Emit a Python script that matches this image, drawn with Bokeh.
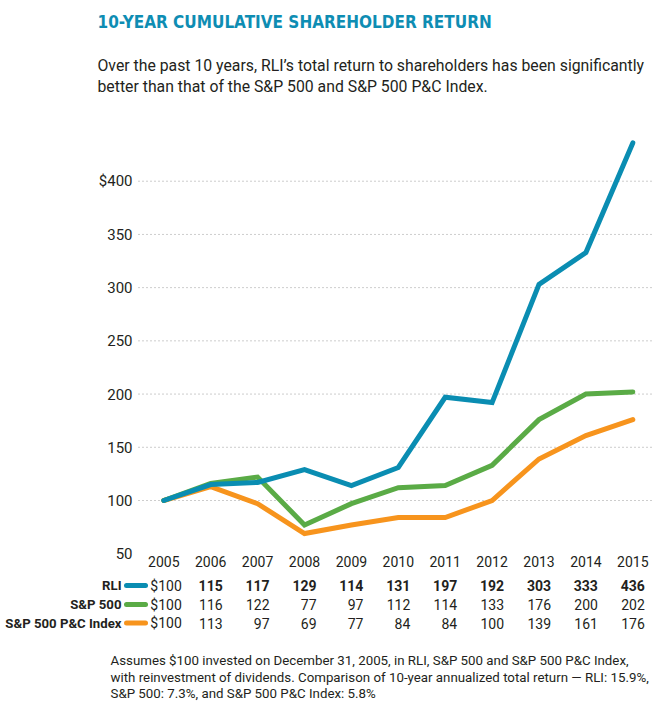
from bokeh.plotting import figure
from bokeh.models import Range1d, ColumnDataSource
from bokeh.core.properties import value
from bokeh.embed import file_html
from bokeh.resources import INLINE

# ---------------- data ----------------
years = [2005, 2006, 2007, 2008, 2009, 2010, 2011, 2012, 2013, 2014, 2015]
rli = [100, 115, 117, 129, 114, 131, 197, 192, 303, 333, 436]
sp500 = [100, 116, 122, 77, 97, 112, 114, 133, 176, 200, 202]
pc_index = [100, 113, 97, 69, 77, 84, 84, 100, 139, 161, 176]
series_names = ["RLI", "S&P 500", "S&P 500 P&C Index"]
y_ticks = [50, 100, 150, 200, 250, 300, 350, 400]
y_tick_labels = ["50", "100", "150", "200", "250", "300", "350", "$400"]
title_text = "10-YEAR CUMULATIVE SHAREHOLDER RETURN"
subtitle_lines = [
    "Over the past 10 years, RLI\u2019s total return to shareholders has been significantly",
    "better than that of the S&P 500 and S&P 500 P&C Index.",
]
footnote_lines = [
    "Assumes $100 invested on December 31, 2005, in RLI, S&P 500 and S&P 500 P&C Index,",
    "with reinvestment of dividends. Comparison of 10-year annualized total return \u2014 RLI: 15.9%,",
    "S&P 500: 7.3%, and S&P 500 P&C Index: 5.8%",
]

# ---------------- styling / layout ----------------
W, H = 665, 712
BLUE, GREEN, ORANGE = "#0a8db2", "#5aab46", "#f7941d"
TITLE_COLOR = "#0e8db3"
TEXT = "#231f20"
FONT = value("Roboto")
NARROW = value("DejaVu Sans Condensed, Roboto")

# pixel anchors of the plotting scale
x0_px, px_per_year = 163.3, 46.9
y100_px, px_per_unit = 500.0, 1.0643

x_start = years[0] - x0_px / px_per_year
x_end = years[0] + (W - x0_px) / px_per_year
y_end = 100 + y100_px / px_per_unit
y_start = 100 - (H - y100_px) / px_per_unit

p = figure(width=W, height=H, x_range=Range1d(x_start, x_end), y_range=Range1d(y_start, y_end),
           output_backend="svg", toolbar_location=None, min_border=0,
           x_axis_type=None, y_axis_type=None, outline_line_color=None,
           background_fill_color="white", border_fill_color="white")
p.extra_x_ranges = {"px": Range1d(0, W)}
p.extra_y_ranges = {"py": Range1d(H, 0)}

# grid lines (dotted)
grid_vals = [t for t in y_ticks if t >= 100]
p.segment(x0=[138] * len(grid_vals), x1=[651] * len(grid_vals), y0=grid_vals, y1=grid_vals,
          x_range_name="px", line_color="#9a9a9a", line_width=1, line_dash="1 3")

# y tick labels
p.text(x=[132] * len(y_ticks), y=y_ticks, text=y_tick_labels, x_range_name="px",
       text_align="right", text_baseline="middle", text_font=FONT,
       text_font_size="15px", text_color=TEXT)

# series lines
colors = [BLUE, GREEN, ORANGE]
series = [rli, sp500, pc_index]
for vals, col in [(pc_index, ORANGE), (sp500, GREEN), (rli, BLUE)]:
    p.line(years, vals, line_color=col, line_width=5, line_cap="round", line_join="miter")

# year labels
p.text(x=years, y=[561] * len(years), text=[str(y) for y in years], y_range_name="py",
       text_align="center", text_baseline="middle", text_font=FONT,
       text_font_size="14px", text_color=TEXT)

# table
row_y = [585, 604, 622.5]
for i, (name, vals, col) in enumerate(zip(series_names, series, colors)):
    ry = row_y[i]
    p.text(x=[121], y=[ry], text=[name], x_range_name="px", y_range_name="py",
           text_align="right", text_baseline="middle", text_font=FONT,
           text_font_style="bold", text_font_size="13.2px", text_color=TEXT)
    p.segment(x0=[126], x1=[145], y0=[ry], y1=[ry], x_range_name="px", y_range_name="py",
              line_color=col, line_width=5, line_cap="round")
    labels = ["$" + str(vals[0])] + [str(v) for v in vals[1:]]
    offs = [18] + [12] * (len(vals) - 1)
    styles = ["normal"] + (["bold"] * (len(vals) - 1) if i == 0 else ["normal"] * (len(vals) - 1))
    src = ColumnDataSource(dict(x=years, y=[ry] * len(years), t=labels, o=offs, s=styles))
    p.text(x="x", y="y", text="t", x_offset="o", source=src, y_range_name="py",
           text_align="right", text_baseline="middle", text_font=FONT,
           text_font_style="s", text_font_size="14px", text_color=TEXT)

# title & subtitle
p.text(x=[97], y=[21], text=[title_text], x_range_name="px", y_range_name="py",
       text_align="left", text_baseline="middle", text_font=NARROW,
       text_font_style="bold", text_font_size="17px", text_color=TITLE_COLOR)
p.text(x=[97] * len(subtitle_lines), y=[65, 86], text=subtitle_lines, x_range_name="px",
       y_range_name="py", text_align="left", text_baseline="middle", text_font=FONT,
       text_font_size="15.8px", text_color=TEXT)

# footnote
p.text(x=[110] * len(footnote_lines), y=[660, 677, 693], text=footnote_lines, x_range_name="px",
       y_range_name="py", text_align="left", text_baseline="middle", text_font=FONT,
       text_font_size="13.3px", text_color=TEXT)

open("out.html", "w").write(file_html(p, INLINE))
